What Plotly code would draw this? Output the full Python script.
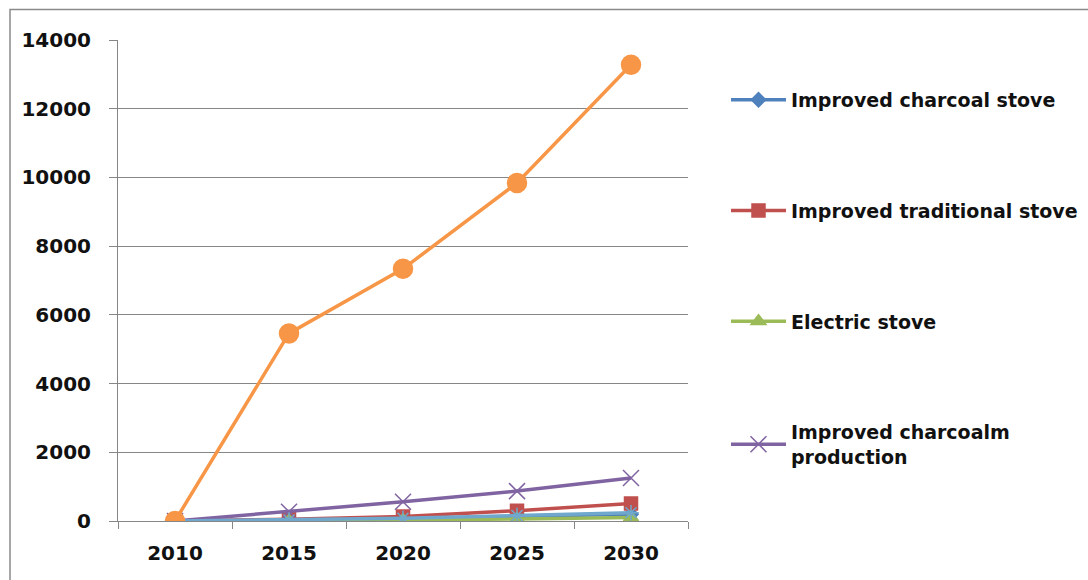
import plotly.graph_objects as go

years = ["2010", "2015", "2020", "2025", "2030"]
charcoal_stove = [0, 20, 60, 130, 200]
traditional_stove = [0, 50, 130, 300, 510]
electric_stove = [0, 10, 25, 60, 100]
charcoal_production = [0, 270, 560, 870, 1250]
series5 = [0, 30, 80, 160, 240]
total = [0, 5460, 7340, 9840, 13280]

series = [
    ("Improved charcoal stove", charcoal_stove, "#4F81BD", "diamond", 11, True),
    ("Improved traditional stove", traditional_stove, "#C0504D", "square", 13, True),
    ("Electric stove", electric_stove, "#9BBB59", "triangle-up", 13, True),
    ("Improved charcoalm<br>production", charcoal_production, "#8064A2", "x-thin-open", 16, True),
    ("Series 5", series5, "#6FA8CC", "asterisk-open", 13, False),
    ("Total", total, "#F79646", "circle", 19, False),
]

fig = go.Figure()
for i, (name, vals, color, sym, size, show) in enumerate(series):
    fig.add_trace(go.Scatter(
        x=years, y=vals, name=name, mode="lines+markers",
        line=dict(color=color, width=3.5),
        marker=dict(symbol=sym, size=size, color=color,
                    line=dict(color=color, width=1.5)),
        showlegend=show, legendgroup=f"g{i}",
    ))

font_family = "DejaVu Sans"
fig.update_layout(
    width=1088, height=580,
    margin=dict(l=118, r=400, t=40, b=59, autoexpand=False),
    paper_bgcolor="white", plot_bgcolor="white",
    showlegend=True,
    legend=dict(x=(726 - 118) / 570, xanchor="left", y=0.915, yanchor="top",
                xref="paper", yref="paper",
                font=dict(family=font_family, size=19, color="#111", weight="bold"),
                tracegroupgap=83, itemwidth=55,
                bgcolor="rgba(0,0,0,0)"),
    xaxis=dict(type="category", range=[-0.5, 4.5],
               showline=True, linecolor="#868686", linewidth=1,
               ticks="outside", tickson="boundaries", ticklen=7, tickcolor="#868686",
               showgrid=False, zeroline=False, ticklabelstandoff=14,
               tickfont=dict(family=font_family, size=20, color="#111", weight="bold"),
               ),
    yaxis=dict(range=[0, 14000], dtick=2000, tickformat="d",
               showline=True, linecolor="#868686", linewidth=1,
               ticks="outside", ticklen=8, tickcolor="#868686",
               showgrid=True, gridcolor="#868686", gridwidth=1,
               zeroline=False, ticklabelstandoff=14,
               tickfont=dict(family=font_family, size=20, color="#111", weight="bold"),
               ),
    shapes=[dict(type="rect", xref="paper", yref="paper",
                 x0=(10 - 118) / 570, x1=(1100 - 118) / 570,
                 y0=(521 - 600) / 480.5, y1=(521 - 10) / 480.5,
                 line=dict(color="#8a8a8a", width=1.5), layer="below")],
)

fig.write_html("out.html")
